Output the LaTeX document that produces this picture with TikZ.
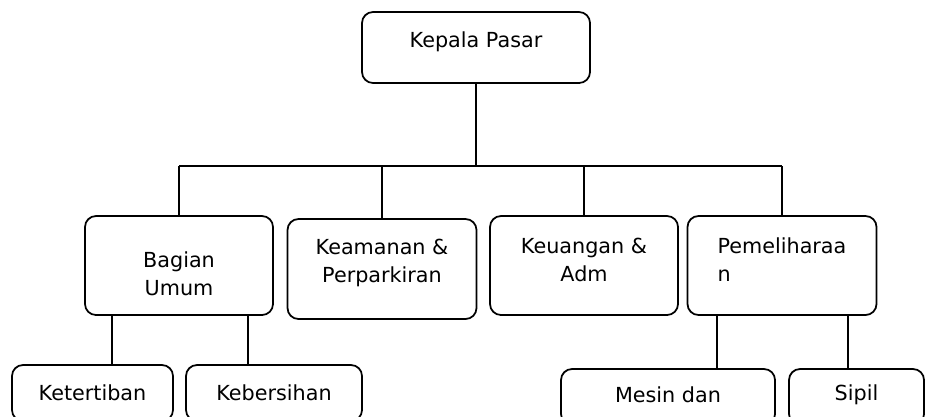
\documentclass[tikz,border=0pt]{standalone}
\usepackage{fontspec}
\setmainfont{DejaVu Sans}
\usetikzlibrary{positioning}
\begin{document}
\begin{tikzpicture}[x=0.02cm,y=-0.02cm,line width=1pt,
  every node/.style={font=\fontsize{11.8}{15.9}\selectfont},
  every label/.style={inner sep=0pt,align=center},
  unitbox/.style={draw,rounded corners=0.22cm,inner sep=0pt}]
  \useasboundingbox (0,0) rectangle (929,416);
  \clip (0,0) rectangle (929,416);
  \node[unitbox,minimum width=228*0.02cm,minimum height=71*0.02cm] (kepala) at (476,47.5)[label={[yshift=0.11cm]center:Kepala Pasar}]{};
  \node[unitbox,minimum width=188*0.02cm,minimum height=99*0.02cm] (umum) at (179,265.5)[label={[yshift=-0.17cm]center:Bagian\\Umum}]{};
  \node[unitbox,minimum width=189*0.02cm,minimum height=100*0.02cm] (aman) at (382,269)[label={[yshift=0.12cm]center:Keamanan \&\\Perparkiran}]{};
  \node[unitbox,minimum width=188*0.02cm,minimum height=99*0.02cm] (uang) at (584,265.5)[label={[yshift=0.11cm]center:Keuangan \&\\Adm}]{};
  \node[unitbox,minimum width=189*0.02cm,minimum height=99*0.02cm] (pelihara) at (782,265.5)[label={[yshift=0.11cm,align=left]center:Pemeliharaa\\n}]{};
  \node[unitbox,minimum width=161*0.02cm,minimum height=56*0.02cm] (tertib) at (92.5,393)[label=center:Ketertiban]{};
  \node[unitbox,minimum width=176*0.02cm,minimum height=56*0.02cm] (bersih) at (274,393)[label=center:Kebersihan]{};
  \node[unitbox,minimum width=214*0.02cm,minimum height=56*0.02cm] (mesin) at (668,397)[label={[yshift=0.04cm]center:Mesin dan}]{};
  \node[unitbox,minimum width=135*0.02cm,minimum height=56*0.02cm] (sipil) at (856.5,397)[label={[yshift=0.04cm]center:Sipil}]{};
  \coordinate (bus) at (476,166);
  \draw (kepala.south) -- (bus);
  \draw (umum.north |- bus) -- (pelihara.north |- bus);
  \foreach \n in {umum,aman,uang,pelihara}
    \draw (\n.north) -- (\n.north |- bus);
  \draw ([xshift=-1.34cm]umum.south) -- ([xshift=-1.34cm]umum.south |- tertib.north);
  \draw ([xshift=1.38cm]umum.south) -- ([xshift=1.38cm]umum.south |- bersih.north);
  \draw ([xshift=-1.3cm]pelihara.south) -- ([xshift=-1.3cm]pelihara.south |- mesin.north);
  \draw ([xshift=1.32cm]pelihara.south) -- ([xshift=1.32cm]pelihara.south |- sipil.north);
\end{tikzpicture}
\end{document}
